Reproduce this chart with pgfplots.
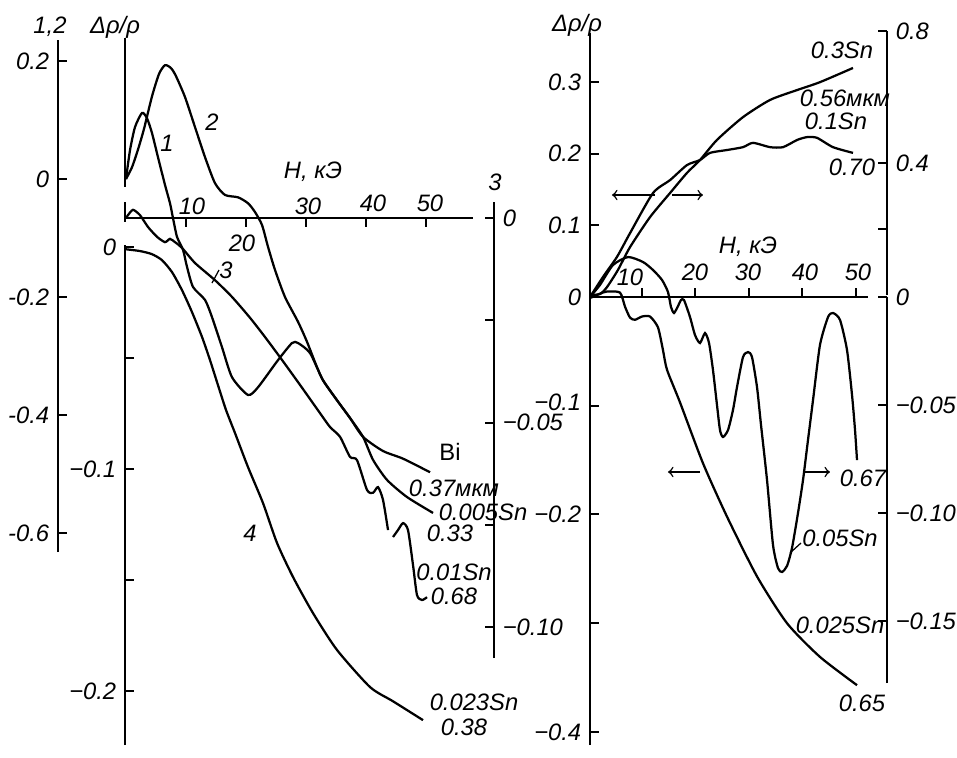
\documentclass[border=0pt]{standalone}
\usepackage{pgfplots}
\pgfplotsset{compat=1.18}
\usepackage{fontspec}
\setmainfont{Liberation Sans}
\newcommand{\lf}{\fontsize{9.5}{10}\selectfont\itshape}
\pgfplotsset{
  base/.style={
    clip=false, scale only axis, anchor=south west,
    axis line style={line width=0.8pt,-},
    every tick/.append style={black, line width=0.8pt},
    major tick length=3.6pt,
    tick label style={font=\lf},
    xtick=\empty,
    cycle list={{black}},
    every axis plot post/.append style={line width=0.9pt, black, solid, no markers, smooth, tension=0.4},
  },
}
\begin{document}
\begin{tikzpicture}
\useasboundingbox (0,0) rectangle (382.8pt,-302.8pt);
% ---------- LEFT PANEL ----------
% Axis A: curves 1, 2
\begin{axis}[base, at={(23.2pt,-220.8pt)}, x=2.4pt, y=236pt,
  xmin=-11.3333, xmax=50, ymin=-0.6322, ymax=0.2356,
  axis x line=none, axis y line*=left, tick align=inside,
  ytick={-0.6,-0.4,-0.2,0,0.2}, yticklabels={-0.6,-0.4,-0.2,0,0.2}]
\addplot coordinates {(0,0) (0.67,0.049) (1.5,0.088) (2.67,0.112) (3.5,0.103) (4.33,0.078) (5.33,0.037) (6.5,-0.010) (7.33,-0.041) (7.83,-0.066) (8.5,-0.098) (9.5,-0.12) (10.17,-0.149) (11.17,-0.183) (13.17,-0.205) (14.33,-0.234) (16,-0.285) (17.67,-0.336) (20.33,-0.366) (22,-0.353) (25.33,-0.307) (27.67,-0.278) (28.67,-0.278) (30.67,-0.295) (32.83,-0.341) (35.17,-0.375) (37.33,-0.405) (39.5,-0.437) (42.83,-0.461) (46.17,-0.474) (50.67,-0.497)};
\addplot coordinates {(0,0) (1,0.02) (2,0.05) (3,0.085) (4.33,0.14) (5.5,0.178) (6.5,0.193) (7.5,0.188) (8.3,0.175) (9.83,0.139) (11.5,0.088) (13.17,0.037) (14.83,-0.007) (16.5,-0.027) (18.67,-0.031) (20.33,-0.041) (21.5,-0.056) (22.67,-0.078) (23.67,-0.115) (24.83,-0.154) (26.5,-0.2) (28.67,-0.242) (30.17,-0.276) (31.83,-0.319) (32.83,-0.341) (35.17,-0.375) (37.33,-0.405) (39.5,-0.437) (41.17,-0.476) (43.5,-0.510) (46.83,-0.539) (51.17,-0.566)};
\end{axis}
% Axis B: curve 4
\begin{axis}[base, at={(50pt,-298pt)}, x=2.4pt, y=888pt,
  xmin=-0.1667, xmax=50, ymin=-0.2243, ymax=0.001,
  axis x line=none, axis y line*=left, tick align=inside,
  ytick={-0.2,-0.15,-0.1,-0.05,0}, yticklabels={−0.2,{},−0.1,{},0}]
\addplot coordinates {(0,-0.001) (2.33,-0.0018) (4.33,-0.0032) (6,-0.0059) (7.67,-0.0113) (9.33,-0.0194) (11,-0.0293) (12.67,-0.0405) (14,-0.0509) (15.33,-0.0622) (16.67,-0.0734) (18.17,-0.0838) (20.33,-0.0991) (22.83,-0.1153) (25.17,-0.1333) (27.83,-0.1486) (31.17,-0.1649) (35.17,-0.1815) (40.67,-0.1982) (44.5,-0.2046) (49.5,-0.2131)};
\end{axis}
% Axis C: curve 3
\begin{axis}[base, at={(50pt,-263.2pt)}, x=2.4pt, y=1636pt,
  xmin=-0.1667, xmax=61.3333, ymin=-0.10758, ymax=0.00391,
  axis x line=none, axis y line*=right, tick align=inside,
  ytick={-0.1,-0.075,-0.05,-0.025,0}, yticklabels={−0.10,{},\raisebox{-2.5pt}{−0.05},{},0}]
\addplot coordinates {(0,0) (0.33,0.0007) (1.17,0.002) (2.33,0.0007) (3.67,-0.0022) (5.17,-0.0046) (6.5,-0.0059) (7.33,-0.0051) (8.17,-0.0059) (9.33,-0.0073) (11.5,-0.011) (14.83,-0.0152) (17.67,-0.0193) (20.67,-0.0244) (23.17,-0.0291) (26,-0.0347) (29,-0.0408) (32.33,-0.0477) (34,-0.0511) (35.67,-0.0535) (37.33,-0.0584) (38.5,-0.0592) (40.17,-0.0665) (41.17,-0.0672) (42,-0.0658) (42.83,-0.0689) (43.67,-0.0763)};
\addplot coordinates {(44.5,-0.078) (45.33,-0.0763) (46.17,-0.0746) (47,-0.0763) (47.83,-0.0848) (48.5,-0.0922) (49.33,-0.0934) (50.17,-0.0927)};
\end{axis}
% Axis D: H axis (left)
\begin{axis}[base, at={(50pt,-97.2pt)}, x=2.4pt, y=10pt,
  xmin=-0.1667, xmax=57.8333, ymin=0, ymax=1,
  axis x line*=top, axis y line=none, tick align=inside, ytick=\empty,
  xtick={10,20,30,40,50}, xticklabels={{},{},{},{},{}}]
\end{axis}
% ---------- RIGHT PANEL ----------
% H axis (right)
\begin{axis}[base, at={(236pt,-128.8pt)}, x=2.14pt, y=10pt,
  xmin=0.374, xmax=52.34, ymin=0, ymax=1,
  axis x line*=top, axis y line=none, tick align=outside, ytick=\empty,
  xtick={10,20,30,40,50}, xticklabels={{},{},{},{},{}}]
\end{axis}
% Left upper scale: 0.1 Sn
\begin{axis}[base, at={(236pt,-118.8pt)}, x=2.14pt, y=286.8pt,
  xmin=0.374, xmax=50, ymin=0, ymax=0.3682,
  axis x line=none, axis y line*=left, tick align=inside,
  ytick={0,0.1,0.2,0.3}, yticklabels={0,0.1,0.2,0.3}]
\addplot coordinates {(0.374,0) (2.8,0.028) (5.42,0.056) (7.85,0.089) (12.15,0.145) (15.33,0.163) (18.5,0.184) (20.93,0.191) (22.8,0.201) (25.98,0.205) (28.97,0.209) (30.84,0.215) (34.02,0.209) (36.45,0.209) (39.07,0.219) (40.93,0.223) (42.8,0.222) (45.79,0.209) (49.53,0.201)};
\end{axis}
% Left lower scale: 0.025 Sn
\begin{axis}[base, at={(236pt,-298pt)}, x=2.14pt, y=435pt,
  xmin=0.374, xmax=50, ymin=-0.412, ymax=0,
  axis x line=none, axis y line*=left, tick align=inside,
  ytick={-0.4,-0.3,-0.2,-0.1}, yticklabels={−0.4,{},−0.2,\raisebox{3pt}{−0.1}}]
\addplot coordinates {(0.374,-0.001) (2.24,0.003) (3.55,0.005) (5.98,0.004) (6.92,-0.009) (7.85,-0.019) (8.79,-0.021) (10.09,-0.018) (11.59,-0.018) (13.08,-0.028) (14.02,-0.049) (14.77,-0.067) (17.2,-0.097) (21.5,-0.153) (25.98,-0.202) (31.59,-0.257) (37.2,-0.300) (43.36,-0.331) (50.28,-0.357)};
\end{axis}
% Right upper scale: 0.3 Sn
\begin{axis}[base, at={(236pt,-118pt)}, x=2.14pt, y=132pt,
  xmin=0.374, xmax=55.888, ymin=0, ymax=0.8,
  axis x line=none, axis y line*=right, tick align=inside,
  ytick={0.2,0.4,0.8}, yticklabels={{},0.4,0.8}]
\addplot coordinates {(0.374,0) (2.24,0.003) (3.55,0.024) (5.6,0.076) (7.85,0.145) (11.59,0.236) (15.33,0.309) (18.5,0.370) (20.93,0.409) (24.11,0.470) (28.97,0.539) (34.02,0.591) (39.07,0.621) (43.36,0.645) (49.53,0.688)};
\end{axis}
% Right lower scale: 0.05 Sn
\begin{axis}[base, at={(236pt,-273.2pt)}, x=2.14pt, y=864pt,
  xmin=0.374, xmax=55.888, ymin=-0.1787, ymax=0,
  axis x line=none, axis y line*=right, tick align=inside,
  ytick={-0.15,-0.1,-0.05,0}, yticklabels={−0.15,−0.10,−0.05,0}]
\addplot coordinates {(0.374,0) (2.24,0.0056) (4.67,0.0148) (7.48,0.0185) (10.28,0.0162) (12.15,0.0125) (13.83,0.0079) (14.95,0.0023) (15.51,-0.0046) (16.07,-0.0074) (16.82,-0.0042) (17.38,-0.0014) (17.94,-0.0014) (19.07,-0.0093) (20,-0.0176) (20.93,-0.0213) (21.87,-0.0167) (22.62,-0.0213) (23.36,-0.0338) (24.11,-0.05) (24.67,-0.0616) (25.23,-0.0648) (26.17,-0.0616) (27.1,-0.0523) (27.85,-0.0417) (28.97,-0.0278) (29.91,-0.0255) (30.65,-0.0278) (31.59,-0.0417) (32.34,-0.0593) (33.46,-0.0847) (34.58,-0.1148) (35.51,-0.1255) (36.26,-0.1273) (37.2,-0.1245) (38.13,-0.1162) (39.25,-0.1) (40.19,-0.0847) (41.12,-0.0662) (42.06,-0.0477) (43.36,-0.0222) (44.86,-0.0093) (45.79,-0.0074) (47.1,-0.0106) (48.41,-0.0245) (49.35,-0.0454) (49.91,-0.0616) (50.28,-0.0755)};
\end{axis}
% ---------- annotations ----------
\begin{scope}[x=0.4pt,y=-0.4pt,font=\lf]
\draw[line width=0.8pt] (125,38)--(125,187);
\draw[line width=0.8pt] (125,202)--(125,222);
\node at (50,27) {1,2};
\node at (115,27) {Δρ/ρ};
\node at (167,143) {1};
\node at (212,122) {2};
\node at (226,270) {3};
\draw[line width=0.5pt] (212,283)--(219,270);
\node at (250,533) {4};
\node at (313,172) {H, кЭ};
\node at (495,182) {3};
\node at (192,206) {10};
\node at (242,243) {20};
\node at (308,206) {30};
\node at (373,203) {40};
\node at (430,203) {50};
\node[font=\fontsize{9.5}{10}\selectfont] at (450,452) {Bi};
\node at (454,488) {0.37мкм};
\node at (483,512) {0.005Sn};
\node at (450,533) {0.33};
\node at (454,572) {0.01Sn};
\node at (454,596) {0.68};
\node at (474,702) {0.023Sn};
\node at (464,727) {0.38};
% right panel
\node at (577,25) {Δρ/ρ};
\node at (748,247) {H, кЭ};
\node at (630,277) {10};
\node at (695,272) {20};
\node at (748,272) {30};
\node at (805,272) {40};
\node at (858,272) {50};
\node at (842,50) {0.3Sn};
\node at (845,98) {0.56мкм};
\node at (836,121) {0.1Sn};
\node at (852,167) {0.70};
\node at (863,478) {0.67};
\node at (840,538) {0.05Sn};
\draw[line width=0.5pt] (790,553)--(801,543);
\node at (840,625) {0.025Sn};
\node at (862,703) {0.65};
\draw[line width=0.6pt,->] (655,195)--(612,195);
\draw[line width=0.6pt,->] (672,195)--(703,195);
\draw[line width=0.6pt,->] (700,472)--(668,472);
\draw[line width=0.6pt,->] (803,472)--(830,472);
\end{scope}
\end{tikzpicture}
\end{document}
